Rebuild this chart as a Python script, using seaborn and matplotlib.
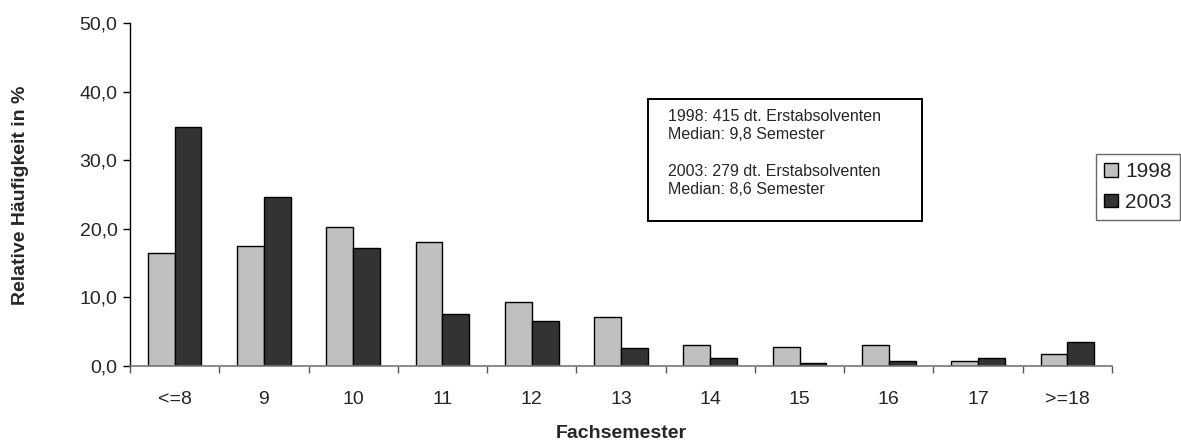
import matplotlib.pyplot as plt
import numpy as np
import pandas as pd
import seaborn as sns
from matplotlib.patches import Rectangle
from matplotlib.ticker import FuncFormatter, FixedLocator

semester = ['<=8', '9', '10', '11', '12', '13', '14', '15', '16', '17', '>=18']
share_1998 = [16.5, 17.5, 20.2, 18.1, 9.4, 7.2, 3.0, 2.8, 3.0, 0.8, 1.8]
share_2003 = [34.8, 24.7, 17.2, 7.6, 6.5, 2.6, 1.2, 0.4, 0.8, 1.2, 3.5]
years = ['1998', '2003']
colors = ['#C0C0C0', '#333333']

df = pd.DataFrame({
    'Fachsemester': semester * 2,
    'Anteil': share_1998 + share_2003,
    'Jahr': [years[0]] * len(semester) + [years[1]] * len(semester),
})

sns.set_style('white')
plt.rcParams['font.family'] = ['Liberation Sans', 'DejaVu Sans']

W, H = 1181, 441
fig = plt.figure(figsize=(W / 100, H / 100), dpi=100)
ax = fig.add_axes([130 / W, 1 - 366 / H, 982 / W, 343 / H])
sns.barplot(data=df, x='Fachsemester', y='Anteil', hue='Jahr', order=semester,
            hue_order=years, palette=colors, width=0.6, edgecolor='black',
            linewidth=1.0, saturation=1, ax=ax, legend=True)

ax.set_xlim(-0.5, len(semester) - 0.5)
ax.set_ylim(0, 50)
ax.set_yticks(np.arange(0, 51, 10))
ax.yaxis.set_major_formatter(FuncFormatter(lambda v, _: f'{v:.1f}'.replace('.', ',')))
ax.tick_params(axis='y', which='major', length=5, width=1, color='black',
               labelsize=14, pad=4, left=True)
ax.tick_params(axis='x', which='major', length=0, labelsize=14, pad=18)
ax.xaxis.set_minor_locator(FixedLocator(np.arange(-0.5, len(semester), 1.0)))
ax.tick_params(axis='x', which='minor', length=5, width=1, color='#555555', bottom=True)

for side in ['top', 'right']:
    ax.spines[side].set_visible(False)
ax.spines['left'].set_color('black')
ax.spines['bottom'].set_color('#777777')
ax.spines['left'].set_linewidth(1)
ax.spines['bottom'].set_linewidth(1.2)

ax.set_xlabel('Fachsemester', fontsize=14, fontweight='bold')
ax.set_ylabel('Relative Häufigkeit in %', fontsize=14, fontweight='bold')
ax.xaxis.set_label_coords((621 - 130) / 982, -(433 - 366) / 343)
ax.yaxis.set_label_coords((21 - 130) / 982, (366 - 195) / 343)
ax.xaxis.label.set_va('center')
ax.yaxis.label.set_va('center')

# annotation box
fig.patches.append(Rectangle((648 / W, 1 - 221 / H), 274 / W, 122 / H,
                             transform=fig.transFigure, facecolor='white',
                             edgecolor='black', linewidth=1.4, zorder=5))
fig.text(668 / W, 1 - 109 / H,
         '1998: 415 dt. Erstabsolventen\nMedian: 9,8 Semester\n\n'
         '2003: 279 dt. Erstabsolventen\nMedian: 8,6 Semester',
         fontsize=11.5, va='top', ha='left', linespacing=1.28, zorder=6)

handles, labels = ax.get_legend_handles_labels()
ax.legend(handles, labels, loc='upper right', bbox_to_anchor=(1180 / W, 1 - 154 / H),
          bbox_transform=fig.transFigure, frameon=True, fancybox=False, edgecolor='#444444',
          fontsize=15, handlelength=0.65, handleheight=0.65, handletextpad=0.35,
          borderpad=0.4, labelspacing=0.55, borderaxespad=0.0)

fig.savefig('out.png', dpi=100)
